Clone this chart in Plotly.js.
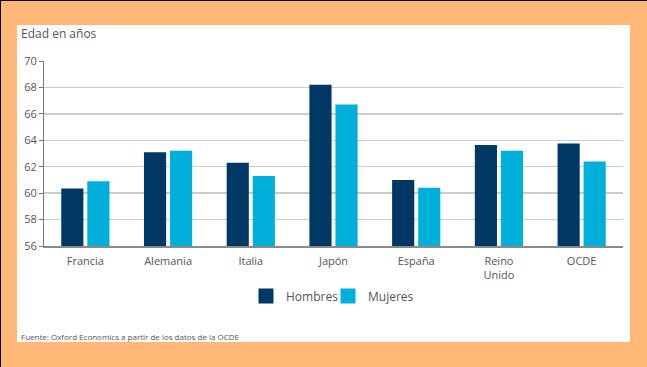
<!DOCTYPE html>
<html>
<head>
<meta charset="utf-8">
<script src="https://cdn.plot.ly/plotly-3.0.1.min.js"></script>
<style>
html,body{margin:0;padding:0;background:#FFB877;}
#chart{width:647px;height:367px;}
</style>
</head>
<body>
<div id="chart"></div>
<script>
const categories = ["Francia", "Alemania", "Italia", "Japón", "España", "Reino<br>Unido", "OCDE"];
const hombres = [60.35, 63.1, 62.3, 68.2, 61.0, 63.65, 63.75];
const mujeres = [60.9, 63.2, 61.3, 66.7, 60.4, 63.2, 62.4];
const seriesNames = ["Hombres", "Mujeres"];
const colors = ["#003865", "#00B0DB"];
const yTicks = [56, 58, 60, 62, 64, 66, 68, 70];

const W = 647, H = 367;
const L = 44, R = 24, T = 61, B = 121;
const pw = W - L - R, ph = H - T - B;
const px = x => (x - L) / pw;
const py = y => (H - B - y) / ph;

const font = "'Open Sans', 'Lato', sans-serif";

const traces = [
  {type: "bar", x: categories, y: hombres, name: seriesNames[0], marker: {color: colors[0]}, showlegend: false, hoverinfo: "skip"},
  {type: "bar", x: categories, y: mujeres, name: seriesNames[1], marker: {color: colors[1]}, showlegend: false, hoverinfo: "skip"},
  {type: "scatter", mode: "markers", x: [null], y: [null], name: seriesNames[0], marker: {symbol: "square", size: 15, color: colors[0]}},
  {type: "scatter", mode: "markers", x: [null], y: [null], name: seriesNames[1], marker: {symbol: "square", size: 15, color: colors[1]}},
  {type: "scatter", mode: "markers", x: [null], y: [null], name: " ", marker: {symbol: "square", size: 1, color: "rgba(0,0,0,0)"}}
];

const layout = {
  width: W, height: H,
  margin: {l: L, r: R, t: T, b: B},
  paper_bgcolor: "#FFB877",
  plot_bgcolor: "rgba(0,0,0,0)",
  font: {family: font, size: 11, color: "#555555"},
  barmode: "group",
  bargap: 0.37,
  bargroupgap: 0.15,
  showlegend: true,
  legend: {orientation: "h", x: px(246), xanchor: "left", y: py(296), yanchor: "middle",
           entrywidth: 37, entrywidthmode: "pixels",
           font: {size: 12, color: "#555555"}, bgcolor: "rgba(0,0,0,0)", itemwidth: 30, tracegroupgap: 0},
  xaxis: {type: "category", showline: true, linecolor: "#8a8a8a", linewidth: 1.5, ticks: "",
          ticklabelstandoff: 4,
          tickfont: {size: 11, color: "#555555"}, showgrid: false, fixedrange: true},
  yaxis: {range: [56, 70], tickvals: yTicks, ticktext: yTicks.map(String), showgrid: true,
          gridcolor: "#cccccc", gridwidth: 1.5, zeroline: false, showline: true, linecolor: "#777777",
          linewidth: 1, ticks: "outside", ticklen: 4, tickcolor: "#777777", tickwidth: 1,
          tickfont: {size: 11, color: "#555555"}, fixedrange: true},
  shapes: [
    {type: "rect", xref: "paper", yref: "paper", x0: px(17), x1: px(630), y0: py(342), y1: py(25),
     fillcolor: "#ffffff", line: {width: 0}, layer: "below"},
    {type: "line", xref: "paper", yref: "paper", x0: px(0), x1: px(647), y0: py(0.5), y1: py(0.5),
     line: {color: "#000000", width: 1}},
    {type: "line", xref: "paper", yref: "paper", x0: px(0.5), x1: px(0.5), y0: py(0), y1: py(367),
     line: {color: "#000000", width: 1}}
  ],
  annotations: [
    {text: "Edad en años", xref: "paper", yref: "paper", x: px(19), y: py(34), xanchor: "left", yanchor: "middle",
     showarrow: false, font: {size: 12, color: "#555555"}},
    {text: "Fuente: Oxford Economics a partir de los datos de la OCDE", xref: "paper", yref: "paper",
     x: px(19), y: py(336), xanchor: "left", yanchor: "middle", showarrow: false,
     font: {size: 8, color: "#555555"}}
  ]
};

Plotly.newPlot("chart", traces, layout, {displayModeBar: false, staticPlot: true});
</script>
</body>
</html>
